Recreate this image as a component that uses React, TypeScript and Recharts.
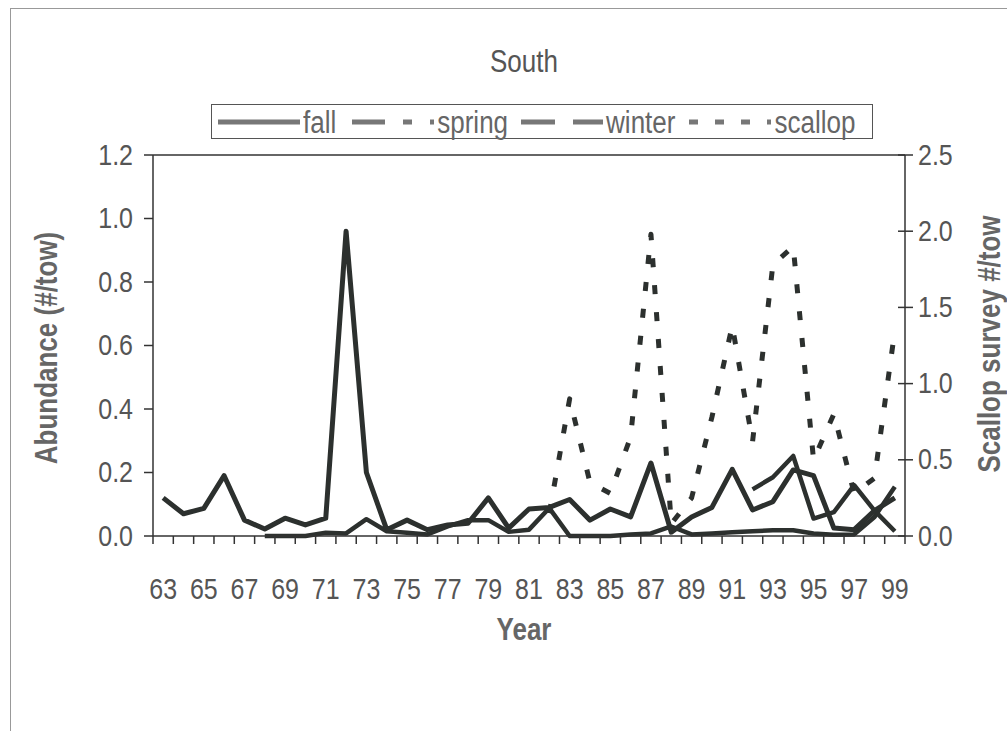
import React from 'react';
import { LineChart, Line, XAxis, YAxis, ReferenceLine, Legend } from 'recharts';

const years = [63, 64, 65, 66, 67, 68, 69, 70, 71, 72, 73, 74, 75, 76, 77, 78, 79, 80, 81, 82, 83, 84, 85, 86, 87, 88, 89, 90, 91, 92, 93, 94, 95, 96, 97, 98, 99];

const fall = [0.12, 0.07, 0.087, 0.19, 0.05, 0.022, 0.056, 0.035, 0.056, 0.96, 0.2, 0.02, 0.05, 0.02, 0.035, 0.04, 0.12, 0.025, 0.085, 0.09, 0.115, 0.05, 0.085, 0.06, 0.23, 0.012, 0.06, 0.09, 0.21, 0.082, 0.108, 0.208, 0.19, 0.025, 0.02, 0.08, 0.12];

const spring = [null, null, null, null, null, 0, 0, 0, 0.01, 0.008, 0.053, 0.015, 0.01, 0.005, 0.03, 0.05, 0.05, 0.013, 0.02, 0.088, 0, 0, 0, 0.005, 0.008, 0.03, 0.005, 0.008, 0.012, 0.015, 0.018, 0.018, 0.008, 0.004, 0.005, 0.06, 0.155];

const winter = [null, null, null, null, null, null, null, null, null, null, null, null, null, null, null, null, null, null, null, null, null, null, null, null, null, null, null, null, null, 0.147, 0.185, 0.252, 0.055, 0.075, 0.16, 0.08, 0.015];

const scallop = [null, null, null, null, null, null, null, null, null, null, null, null, null, null, null, null, null, null, null, 0.15, 0.9, 0.35, 0.28, 0.65, 1.98, 0.08, 0.25, 0.78, 1.38, 0.62, 1.78, 1.9, 0.5, 0.8, 0.28, 0.38, 1.35];

const tickYears = [63, 65, 67, 69, 71, 73, 75, 77, 79, 81, 83, 85, 87, 89, 91, 93, 95, 97, 99];
const leftTicks = [0, 0.2, 0.4, 0.6, 0.8, 1.0, 1.2];
const rightTicks = [0, 0.5, 1.0, 1.5, 2.0, 2.5];

const data = years.map((year, i) => ({
  year,
  fall: fall[i],
  spring: spring[i],
  winter: winter[i],
  scallop: scallop[i],
}));

// tick marks sit between years, labels on the odd years
const boundaries = [...years.map((y) => y - 0.5), years[years.length - 1] + 0.5];
const xTicks = [...boundaries, ...tickYears].sort((a, b) => a - b);

const FONT = '"Liberation Sans", Arial, sans-serif';
const INK = '#2c302e';
const TXT = '#555';
const STRETCH = 1.2; // the scan's lettering is taller than it is wide

const XTick = (props: any) => {
  const { x, y, payload } = props;
  const v = payload.value;
  if (Number.isInteger(v)) {
    return (
      <text transform={`translate(${x},${y + 61}) scale(1,${STRETCH})`} x={0} y={0} dy={2}
        textAnchor="middle" fill={TXT} fontSize={25} fontFamily={FONT}>
        {v}
      </text>
    );
  }
  return <line x1={x} x2={x} y1={y} y2={y + 8} stroke="#333" strokeWidth={1.5} />;
};

const LeftTick = (props: any) => {
  const { x, y, payload } = props;
  return (
    <text transform={`translate(${x},${y}) scale(1,${STRETCH})`} x={0} y={0} dy={8}
      textAnchor="end" fill={TXT} fontSize={25} fontFamily={FONT}>
      {payload.value.toFixed(1)}
    </text>
  );
};

const RightTick = (props: any) => {
  const { x, y, payload } = props;
  return (
    <g>
      <line x1={x - 7} x2={x + 8} y1={y} y2={y} stroke="#333" strokeWidth={1.5} />
      <text transform={`translate(${x + 13},${y}) scale(1,${STRETCH})`} x={0} y={0} dy={8}
        fill={TXT} fontSize={25} fontFamily={FONT}>
        {payload.value.toFixed(1)}
      </text>
    </g>
  );
};

const legendItems = [
  { name: 'fall', dash: undefined, gapAfter: 16 },
  { name: 'spring', dash: '33 18 9 18', gapAfter: 13 },
  { name: 'winter', dash: '34 18', gapAfter: 14 },
  { name: 'scallop', dash: '9 17', gapAfter: 0 },
];

const ChartLegend = () => (
  <div style={{
    width: 662, height: 35,
    border: '1.5px solid #555',
    display: 'flex', alignItems: 'center',
    paddingLeft: 6, boxSizing: 'border-box',
    fontFamily: FONT, fontSize: 26, color: '#666',
  }}>
    {legendItems.map((it) => (
      <div key={it.name} style={{ display: 'flex', alignItems: 'center', marginRight: it.gapAfter }}>
        <svg width={82} height={10}>
          <line x1={0} x2={82} y1={5} y2={5} stroke="#777" strokeWidth={5} strokeDasharray={it.dash} />
        </svg>
        <span style={{ marginLeft: 3, lineHeight: 1, display: 'inline-block', transform: `scaleY(${STRETCH})` }}>
          {it.name}
        </span>
      </div>
    ))}
  </div>
);

const titleStyle = (left: number, top: number, rotate: boolean, bold: boolean): React.CSSProperties => ({
  position: 'absolute', left, top,
  transform: rotate
    ? `translate(-50%, -50%) rotate(-90deg) scaleY(${STRETCH})`
    : `translate(-50%, -50%) scaleY(${STRETCH})`,
  fontSize: 26, fontWeight: bold ? 700 : 400, color: bold ? '#666' : TXT, whiteSpace: 'nowrap',
});

export default function App() {
  return (
    <div style={{
      position: 'fixed', left: 0, top: 0, width: 1007, height: 731,
      overflow: 'hidden', background: '#fff', fontFamily: FONT,
    }}>
      {/* chart-area frame, cut off on the right and bottom */}
      <div style={{
        position: 'absolute', left: 10, top: 8, width: 1100, height: 800,
        border: '1px solid #999',
      }} />

      <div style={titleStyle(524, 62, false, false)}>South</div>
      <div style={titleStyle(47, 348, true, true)}>Abundance (#/tow)</div>
      <div style={titleStyle(990, 344, true, true)}>Scallop survey #/tow</div>
      <div style={titleStyle(524, 630, false, true)}>Year</div>

      <div style={{ position: 'absolute', left: 0, top: 0 }}>
        <LineChart width={1007} height={731} data={data} margin={{ top: 155, right: 0, bottom: 135, left: 0 }}>
          <XAxis
            dataKey="year"
            type="number"
            domain={[62.5, 99.5]}
            ticks={xTicks}
            interval={0}
            height={60}
            tickSize={0}
            tickMargin={0}
            tickLine={false}
            tick={<XTick />}
            axisLine={{ stroke: '#333', strokeWidth: 1.5 }}
          />
          <YAxis
            yAxisId="left"
            domain={[0, 1.2]}
            ticks={leftTicks}
            interval={0}
            width={153}
            tickSize={9}
            tickMargin={11}
            tick={<LeftTick />}
            tickLine={{ stroke: '#333', strokeWidth: 1.5 }}
            axisLine={{ stroke: '#333', strokeWidth: 1.5 }}
          />
          <YAxis
            yAxisId="right"
            orientation="right"
            domain={[0, 2.5]}
            ticks={rightTicks}
            interval={0}
            width={102}
            tickSize={0}
            tickMargin={0}
            tickLine={false}
            tick={<RightTick />}
            axisLine={{ stroke: '#333', strokeWidth: 1.5 }}
          />
          <ReferenceLine yAxisId="left" y={1.2} stroke="#333" strokeWidth={1.5} />
          <Legend
            layout="horizontal"
            verticalAlign="middle"
            align="center"
            content={<ChartLegend />}
            wrapperStyle={{ position: 'absolute', left: 211, top: 104, width: 662, height: 35 }}
          />
          <Line yAxisId="right" dataKey="scallop" stroke={INK} strokeWidth={5} strokeDasharray="9 18"
            dot={false} activeDot={false} isAnimationActive={false} strokeLinejoin="round" />
          <Line yAxisId="left" dataKey="spring" stroke={INK} strokeWidth={4.5} dot={false} activeDot={false}
            isAnimationActive={false} strokeLinejoin="round" />
          <Line yAxisId="left" dataKey="winter" stroke={INK} strokeWidth={4.5} dot={false} activeDot={false}
            isAnimationActive={false} strokeLinejoin="round" />
          <Line yAxisId="left" dataKey="fall" stroke={INK} strokeWidth={5} dot={false} activeDot={false}
            isAnimationActive={false} strokeLinejoin="round" />
        </LineChart>
      </div>
    </div>
  );
}
